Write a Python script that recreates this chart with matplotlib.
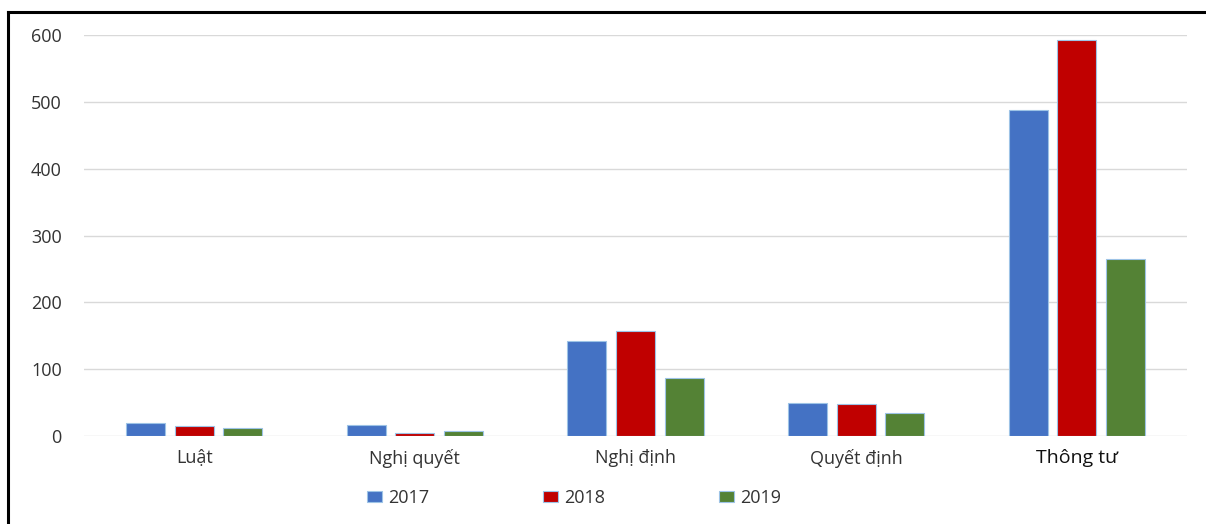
import numpy as np
import matplotlib.pyplot as plt
from matplotlib.lines import Line2D

# dữ liệu
categories = ["Luật", "Nghị quyết", "Nghị định", "Quyết định", "Thông tư"]
years = ["2017", "2018", "2019"]
v2017 = [19, 16, 142, 49, 488]
v2018 = [15, 5, 157, 48, 593]
v2019 = [12, 8, 87, 34, 265]
colors = ["#4472C4", "#C00000", "#548235"]

plt.rcParams['font.family'] = ['Open Sans', 'DejaVu Sans']

fig = plt.figure(figsize=(12.06, 5.24), dpi=100)
ax = fig.add_axes([0.0697, 0.1679, 0.9145, 0.7653])

x = np.arange(len(categories))
w = 0.177
step = 0.22
for i, (vals, c, lab) in enumerate(zip([v2017, v2018, v2019], colors, years)):
    ax.bar(x + (i - 1) * step, vals, width=w, color=c, edgecolor="#9DC3E6",
           linewidth=0.8, label=lab, zorder=3)

ax.set_xlim(-0.5, len(categories) - 0.5)
ax.set_ylim(0, 600)
ax.set_yticks(range(0, 601, 100))
ax.set_xticks(x)
ax.set_xticklabels(categories)
ax.grid(axis="y", color="#D9D9D9", linewidth=1, zorder=0)
for s in ax.spines.values():
    s.set_visible(False)
ax.tick_params(axis="y", length=0, pad=16, labelsize=13, labelcolor="#333333")
ax.tick_params(axis="x", length=0, pad=9, labelsize=13, labelcolor="#333333")
ax.get_xticklabels()[-1].set_fontsize(14)
ax.get_xticklabels()[-1].set_color("#111111")

fig.legend(loc="center", bbox_to_anchor=(0.476, 0.049), ncol=3, frameon=False,
           fontsize=13, handlelength=0.83, handleheight=0.55,
           handletextpad=0.33, columnspacing=6.3, labelcolor="#333333")

# khung viền
fig.add_artist(Line2D([0.0065, 0.0065], [0, 0.978], color="black", lw=2.2,
                      transform=fig.transFigure))
fig.add_artist(Line2D([0.0065, 1], [0.978, 0.978], color="black", lw=2.2,
                      transform=fig.transFigure))

fig.savefig("out.png", dpi=100)
